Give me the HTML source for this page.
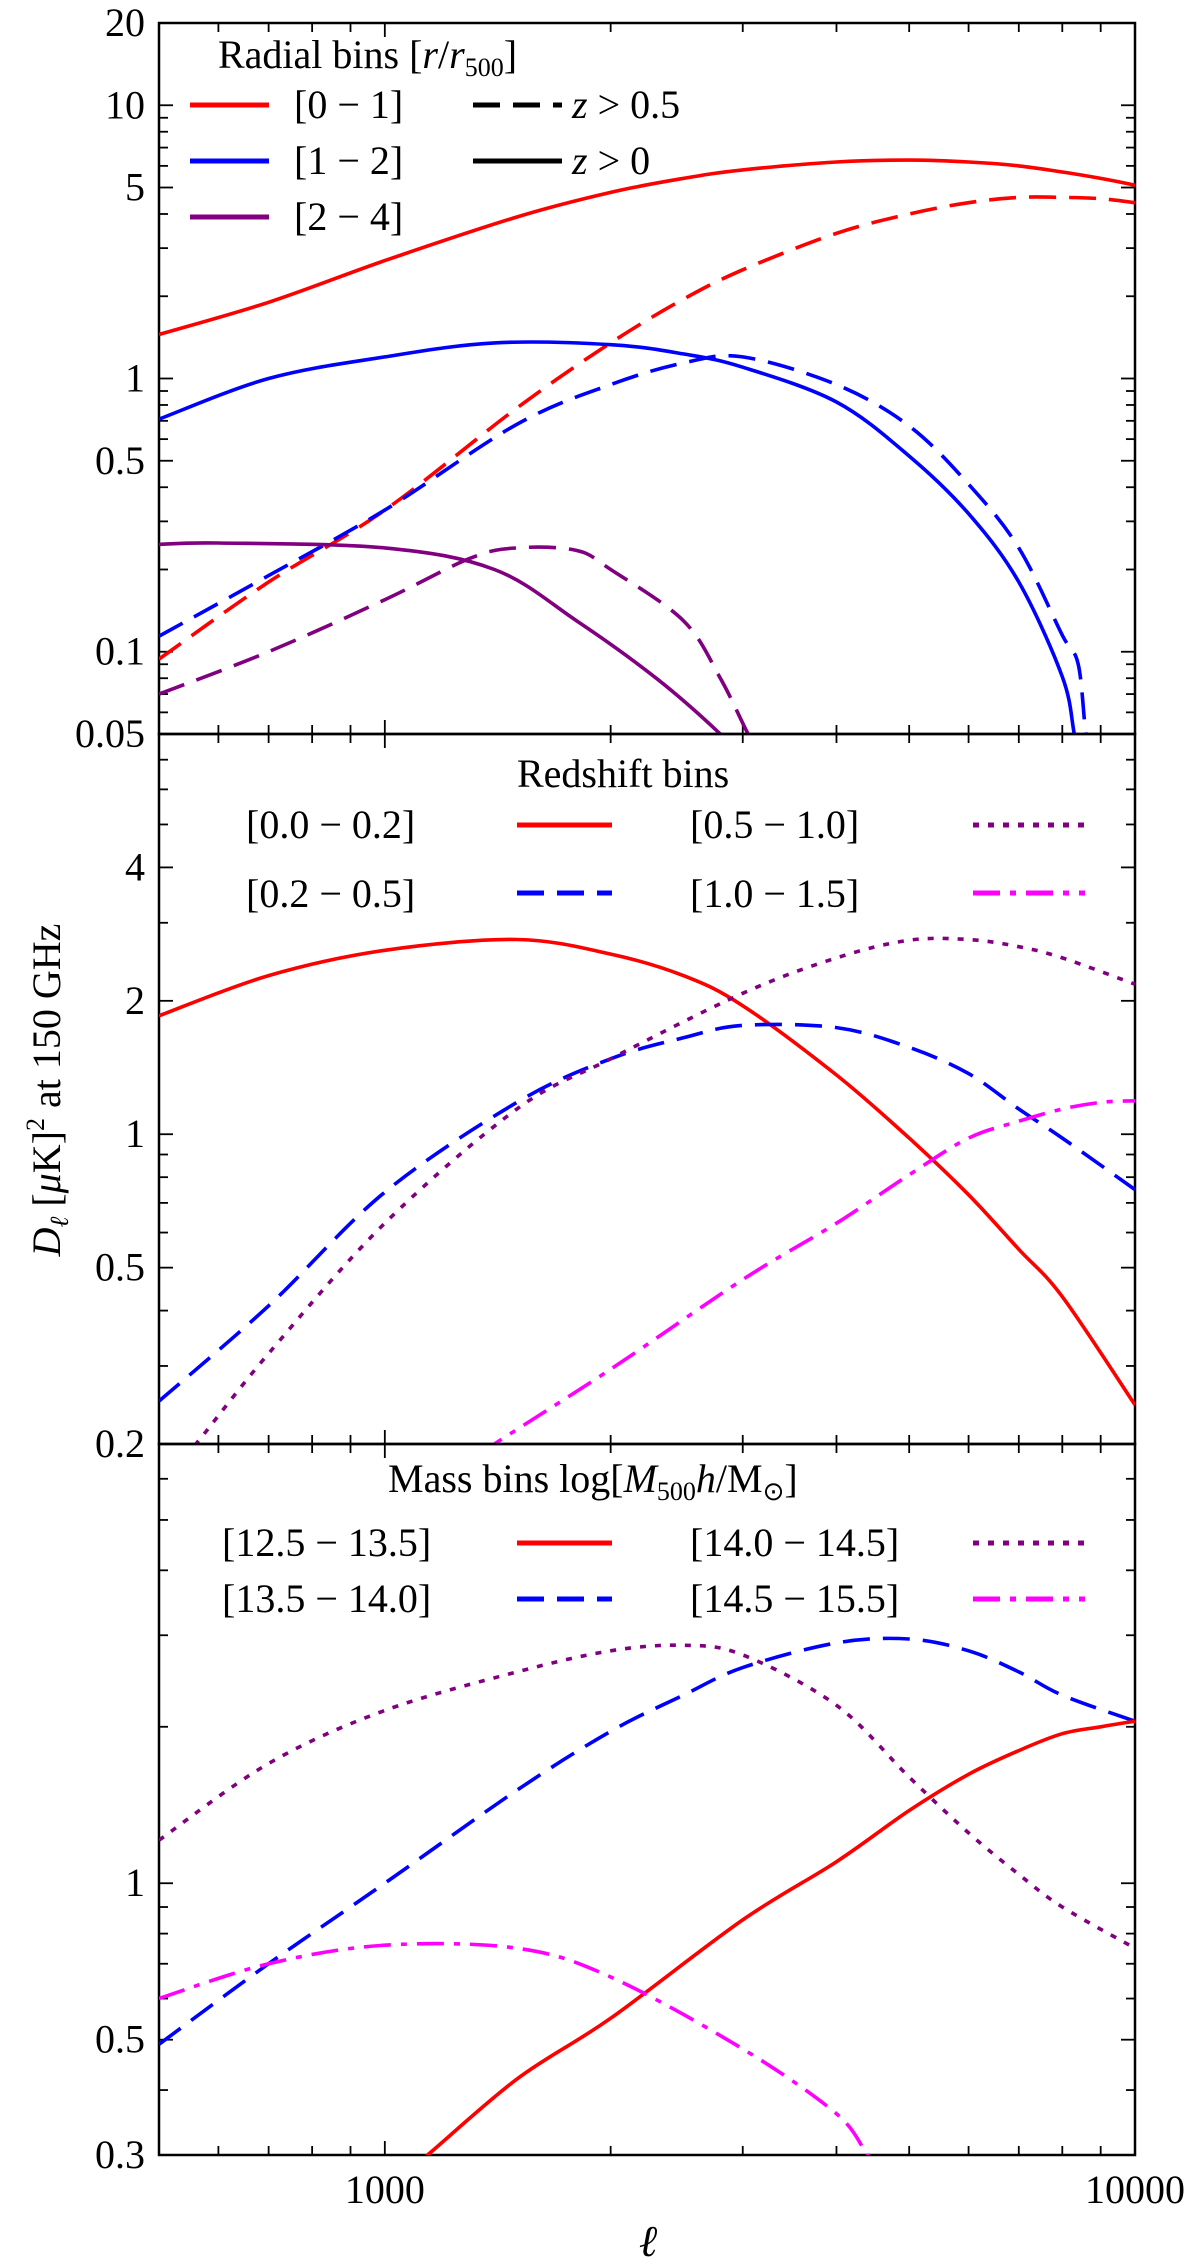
<!DOCTYPE html>
<html><head><meta charset="utf-8"><title>Dl power spectra</title>
<style>
html,body{margin:0;padding:0;background:#fff;}
svg{display:block;font-family:"Liberation Serif",serif;}
</style></head>
<body>
<svg id="chart" width="1200" height="2260" viewBox="0 0 1200 2260" xmlns="http://www.w3.org/2000/svg">
<g id="plots"></g>
<text transform="translate(60,1090) rotate(-90)" text-anchor="middle" font-size="40"><tspan font-style="italic">D</tspan><tspan font-style="italic" font-size="26" dy="8">ℓ</tspan><tspan dy="-8"> [</tspan><tspan font-style="italic">μ</tspan><tspan>K]</tspan><tspan font-size="26" dy="-16">2</tspan><tspan dy="16"> at 150 GHz</tspan></text>
<text x="648" y="2256" text-anchor="middle" font-size="44" font-style="italic">ℓ</text>
<g font-size="40">
<text x="218" y="68">Radial bins [<tspan font-style="italic">r</tspan>/<tspan font-style="italic">r</tspan><tspan font-size="26" dy="8">500</tspan><tspan dy="-8">]</tspan></text>
<line x1="190" y1="105" x2="269" y2="105" stroke="#f00" stroke-width="5"/>
<text x="294" y="118">[0 − 1]</text>
<line x1="190" y1="161" x2="269" y2="161" stroke="#00f" stroke-width="5"/>
<text x="294" y="174">[1 − 2]</text>
<line x1="190" y1="217" x2="269" y2="217" stroke="#800080" stroke-width="5"/>
<text x="294" y="230">[2 − 4]</text>
<line x1="473" y1="105" x2="562" y2="105" stroke="#000" stroke-width="5" stroke-dasharray="27,13"/>
<text x="572" y="118"><tspan font-style="italic">z</tspan> &gt; 0.5</text>
<line x1="473" y1="161" x2="562" y2="161" stroke="#000" stroke-width="5"/>
<text x="572" y="174"><tspan font-style="italic">z</tspan> &gt; 0</text>
</g>
<g font-size="40">
<text x="517" y="787">Redshift bins</text>
<text x="246" y="838">[0.0 − 0.2]</text>
<line x1="517" y1="825" x2="612" y2="825" stroke="#f00" stroke-width="5"/>
<text x="246" y="907">[0.2 − 0.5]</text>
<line x1="517" y1="893" x2="612" y2="893" stroke="#00f" stroke-width="5" stroke-dasharray="27,13"/>
<text x="690" y="838">[0.5 − 1.0]</text>
<line x1="973" y1="825" x2="1085" y2="825" stroke="#800080" stroke-width="5" stroke-dasharray="6,9"/>
<text x="690" y="907">[1.0 − 1.5]</text>
<line x1="973" y1="893" x2="1085" y2="893" stroke="#f0f" stroke-width="5" stroke-dasharray="27,10,6,10"/>
</g>
<g font-size="40">
<text x="388" y="1492">Mass bins log[<tspan font-style="italic">M</tspan><tspan font-size="26" dy="8">500</tspan><tspan dy="-8" font-style="italic">h</tspan>/M<tspan font-size="26" dy="8">⊙</tspan><tspan dy="-8">]</tspan></text>
<text x="222" y="1556">[12.5 − 13.5]</text>
<line x1="517" y1="1543" x2="612" y2="1543" stroke="#f00" stroke-width="5"/>
<text x="222" y="1612">[13.5 − 14.0]</text>
<line x1="517" y1="1599" x2="612" y2="1599" stroke="#00f" stroke-width="5" stroke-dasharray="27,13"/>
<text x="690" y="1556">[14.0 − 14.5]</text>
<line x1="973" y1="1543" x2="1085" y2="1543" stroke="#800080" stroke-width="5" stroke-dasharray="6,9"/>
<text x="690" y="1612">[14.5 − 15.5]</text>
<line x1="973" y1="1599" x2="1085" y2="1599" stroke="#f0f" stroke-width="5" stroke-dasharray="27,10,6,10"/>
</g>
</svg>
<script>
// ---- data ----
const ellTop = [500,700,1000,1500,2000,2500,3000,4000,5000,6000,7000,8000,9000,10000];
const redSolidTop = [1.45,1.9,2.7,3.9,4.8,5.4,5.8,6.2,6.3,6.2,6.0,5.7,5.4,5.1];
const redDashTop = [0.094,0.18,0.33,0.78,1.35,1.95,2.5,3.4,4.0,4.4,4.6,4.6,4.55,4.4];
const ellBlueSolidTop = [500,700,1000,1400,2000,2500,3000,4000,5000,6000,7000,8000,8300,8500];
const blueSolidTop = [0.71,1.0,1.2,1.35,1.33,1.23,1.1,0.82,0.52,0.32,0.18,0.081,0.05,0.035];
const ellBlueDashTop = [500,700,1000,1500,2000,2500,3000,4000,5000,6000,7000,8000,8400,8600,8800];
const blueDashTop = [0.114,0.19,0.33,0.68,0.95,1.14,1.2,0.95,0.67,0.41,0.24,0.115,0.09,0.05,0.035];
const ellPurpleSolidTop = [500,600,1000,1400,1800,2300,2800,3000];
const purpleSolidTop = [0.247,0.25,0.24,0.2,0.13,0.08,0.05,0.04];
const ellPurpleDashTop = [500,700,1000,1300,1500,1800,2000,2500,2800,3050,3200];
const purpleDashTop = [0.07,0.1,0.155,0.22,0.24,0.235,0.2,0.13,0.08,0.05,0.04];

const ellMid = [500,700,1000,1500,2000,2500,3000,4000,5000,6000,7000,8000,10000];
const redSolidMid = [1.85,2.28,2.6,2.75,2.55,2.28,1.95,1.36,0.98,0.73,0.55,0.43,0.245];
const blueDashMid = [0.25,0.41,0.74,1.18,1.48,1.65,1.76,1.74,1.57,1.37,1.14,0.98,0.75];
const ellPurpleMid = [540,560,700,1000,1500,2000,3000,4000,5000,6000,7000,8000,10000];
const purpleDotMid = [0.19,0.2,0.32,0.63,1.14,1.48,2.08,2.5,2.74,2.75,2.65,2.5,2.18];
const ellMagMid = [1350,1400,2000,3000,4000,5000,6000,7000,8000,9000,10000];
const magDashDotMid = [0.19,0.2,0.295,0.47,0.63,0.81,0.98,1.07,1.14,1.18,1.19];

const ellBot = [500,700,1000,1500,2000,2500,3000,4000,5000,6000,7000,8000,10000];
const purpleDotBot = [1.21,1.7,2.15,2.55,2.8,2.87,2.75,2.2,1.6,1.25,1.04,0.9,0.75];
const blueDashBot = [0.49,0.7,1.0,1.51,1.96,2.3,2.6,2.9,2.95,2.8,2.55,2.3,2.05];
const ellRedBot = [1100,1140,1500,2000,3000,4000,5000,6000,7000,8000,9000,10000];
const redSolidBot = [0.29,0.3,0.42,0.55,0.85,1.1,1.38,1.62,1.8,1.94,2.0,2.05];
const ellMagBot = [500,700,1000,1500,2000,3000,4000,4400,4600];
const magDashDotBot = [0.6,0.7,0.76,0.75,0.66,0.48,0.36,0.3,0.28];

const xTickLabels = ["1000","10000"];
const xTickValues = [1000,10000];
const yTicksTop = [0.05,0.1,0.5,1,5,10,20];
const yTickLabelsTop = ["0.05","0.1","0.5","1","5","10","20"];
const yTicksMid = [0.2,0.5,1,2,4];
const yTickLabelsMid = ["0.2","0.5","1","2","4"];
const yTicksBot = [0.3,0.5,1];
const yTickLabelsBot = ["0.3","0.5","1"];

// ---- layout ----
const NS = "http://www.w3.org/2000/svg";
const L = 159, R = 1135;
const XMIN = 500, XMAX = 10000;
function xs(v){ return L + (Math.log10(v) - Math.log10(XMIN)) / (Math.log10(XMAX) - Math.log10(XMIN)) * (R - L); }
function makeY(top, bot, ymin, ymax){
  return function(v){ return bot - (Math.log10(v) - Math.log10(ymin)) / (Math.log10(ymax) - Math.log10(ymin)) * (bot - top); };
}
const panels = [
  {name:"radial", top:23, bot:734, ymin:0.05, ymax:20, ticks:yTicksTop, labels:yTickLabelsTop},
  {name:"redshift", top:734, bot:1444, ymin:0.2, ymax:8, ticks:yTicksMid, labels:yTickLabelsMid},
  {name:"mass", top:1444, bot:2155, ymin:0.3, ymax:7, ticks:yTicksBot, labels:yTickLabelsBot}
];
const root = document.getElementById("plots");
function el(tag, attrs, parent){
  const e = document.createElementNS(NS, tag);
  for (const k in attrs) e.setAttribute(k, attrs[k]);
  (parent || root).appendChild(e);
  return e;
}
function minorList(lo, hi){
  const out = [];
  for (let d = Math.floor(Math.log10(lo)) - 1; d <= Math.ceil(Math.log10(hi)); d++){
    for (let m = 1; m < 10; m++){ const v = m * Math.pow(10, d); if (v >= lo*0.999 && v <= hi*1.001) out.push(v); }
  }
  return out;
}
panels.forEach(function(p, idx){
  const g = el("g", {});
  
  
  p.y = makeY(p.top, p.bot, p.ymin, p.ymax);
  p.g = g;
  const clip = el("clipPath", {id:"clip"+idx}, g);
  el("rect", {x:L, y:p.top, width:R-L, height:p.bot-p.top}, clip);
  minorList(p.ymin, p.ymax).forEach(function(v){
    const yy = p.y(v);
    const major = p.ticks.some(function(t){ return Math.abs(t - v) < 1e-9; });
    const len = major ? 14 : 9;
    const t1 = el("line", {x1:L, y1:yy, x2:L+len, y2:yy, stroke:"#000", "stroke-width":1.8}, g);
    
    
    const t2 = el("line", {x1:R, y1:yy, x2:R-len, y2:yy, stroke:"#000", "stroke-width":1.8}, g);
    
    
  });
  p.ticks.forEach(function(v, i){
    const t = el("text", {x:L-14, y:p.y(v)+13, "text-anchor":"end", "font-size":40}, g);
    t.textContent = p.labels[i];
    
    
  });
  minorList(XMIN, XMAX).forEach(function(v){
    const xx = xs(v);
    const major = xTickValues.indexOf(v) >= 0;
    const len = major ? 14 : 9;
    const a = el("line", {x1:xx, y1:p.bot, x2:xx, y2:p.bot-len, stroke:"#000", "stroke-width":1.8}, g);
    
    
    const b = el("line", {x1:xx, y1:p.top, x2:xx, y2:p.top+len, stroke:"#000", "stroke-width":1.8}, g);
    
    
  });
  const frame = el("rect", {x:L, y:p.top, width:R-L, height:p.bot-p.top, fill:"none", stroke:"#000", "stroke-width":2.5}, g);
  
  
});
xTickValues.forEach(function(v, i){
  const t = el("text", {x:xs(v), y:2203, "text-anchor":"middle", "font-size":40});
  t.textContent = xTickLabels[i];
  
  
});
const styles = { solid: "", dash: "27,13", dot: "6,9", dashdot: "27,10,6,10" };
function series(pi, xsArr, ysArr, color, style, name){
  const p = panels[pi];
  const pts = xsArr.map(function(x, i){ return [xs(x), p.y(ysArr[i])]; });
  let d = "M" + pts[0][0].toFixed(1) + "," + pts[0][1].toFixed(1);
  for (let i = 0; i < pts.length - 1; i++){
    const p0 = pts[Math.max(i-1,0)], p1 = pts[i], p2 = pts[i+1], p3 = pts[Math.min(i+2, pts.length-1)];
    const c1 = [p1[0] + (p2[0]-p0[0])/6, p1[1] + (p2[1]-p0[1])/6];
    const c2 = [p2[0] - (p3[0]-p1[0])/6, p2[1] - (p3[1]-p1[1])/6];
    d += "C" + c1[0].toFixed(1) + "," + c1[1].toFixed(1) + " " + c2[0].toFixed(1) + "," + c2[1].toFixed(1) + " " + p2[0].toFixed(1) + "," + p2[1].toFixed(1);
  }
  const attrs = {d:d, fill:"none", stroke:color, "stroke-width":3.6, "clip-path":"url(#clip"+pi+")", "stroke-linejoin":"round"};
  if (styles[style]) attrs["stroke-dasharray"] = styles[style];
  const path = el("path", attrs, p.g);
  
  
}
series(0, ellTop, redSolidTop, "#f00", "solid", "radial-0-1-z0-line");
series(0, ellTop, redDashTop, "#f00", "dash", "radial-0-1-z05-line");
series(0, ellBlueSolidTop, blueSolidTop, "#00f", "solid", "radial-1-2-z0-line");
series(0, ellBlueDashTop, blueDashTop, "#00f", "dash", "radial-1-2-z05-line");
series(0, ellPurpleSolidTop, purpleSolidTop, "#800080", "solid", "radial-2-4-z0-line");
series(0, ellPurpleDashTop, purpleDashTop, "#800080", "dash", "radial-2-4-z05-line");
series(1, ellMid, redSolidMid, "#f00", "solid", "redshift-0.0-0.2-line");
series(1, ellMid, blueDashMid, "#00f", "dash", "redshift-0.2-0.5-line");
series(1, ellPurpleMid, purpleDotMid, "#800080", "dot", "redshift-0.5-1.0-line");
series(1, ellMagMid, magDashDotMid, "#f0f", "dashdot", "redshift-1.0-1.5-line");
series(2, ellBot, purpleDotBot, "#800080", "dot", "mass-14.0-14.5-line");
series(2, ellBot, blueDashBot, "#00f", "dash", "mass-13.5-14.0-line");
series(2, ellRedBot, redSolidBot, "#f00", "solid", "mass-12.5-13.5-line");
series(2, ellMagBot, magDashDotBot, "#f0f", "dashdot", "mass-14.5-15.5-line");
</script>
</body></html>
